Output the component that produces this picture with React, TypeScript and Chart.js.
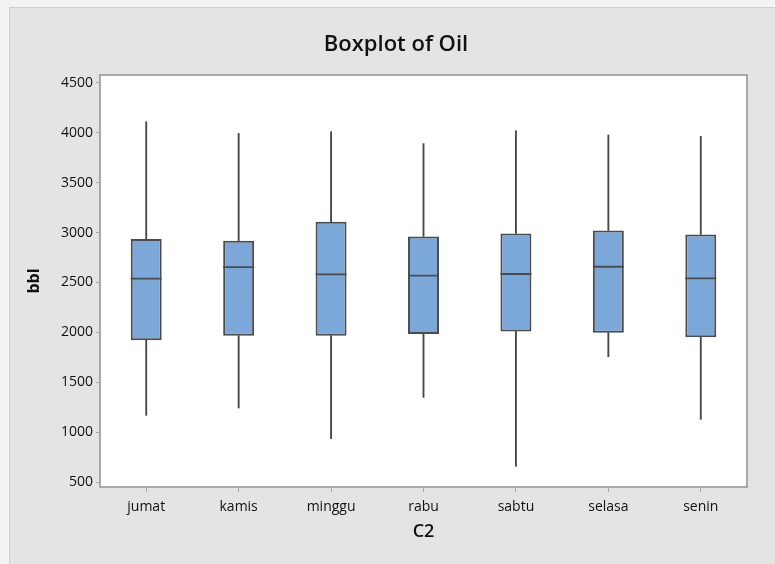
import React, { useEffect, useRef } from "react";
import { Chart, registerables } from "chart.js";

Chart.register(...registerables);

const categories = ["jumat", "kamis", "minggu", "rabu", "sabtu", "selasa", "senin"];
const whiskerMin = [1168, 1242, 934, 1348, 657, 1756, 1128];
const quartile1 = [1920, 1967, 1967, 1984, 2010, 1997, 1950];
const medians = [2538, 2655, 2581, 2568, 2585, 2658, 2541];
const quartile3 = [2936, 2919, 3110, 2962, 2992, 3022, 2982];
const whiskerMax = [4112, 3995, 4012, 3892, 4022, 3979, 3965];
const yTicks = [500, 1000, 1500, 2000, 2500, 3000, 3500, 4000, 4500];
const yMin = 450;
const yMax = 4580;

const FONT = "'Open Sans', 'Noto Sans', sans-serif";
const BOX_FILL = "#7ba7d9";
const BOX_LINE = "#4c4c4c";
const WHISKER = "#474747";
const FRAME = "#a9a9a9";
const BW = 2;

const plotFrame = {
  id: "plotFrame",
  beforeDraw(chart: any) {
    const { ctx, chartArea } = chart;
    ctx.save();
    ctx.fillStyle = "#ffffff";
    ctx.fillRect(chartArea.left, chartArea.top, chartArea.right - chartArea.left, chartArea.bottom - chartArea.top);
    ctx.restore();
  },
  beforeDatasetsDraw(chart: any) {
    const { ctx, chartArea } = chart;
    ctx.save();
    ctx.strokeStyle = FRAME;
    ctx.lineWidth = 2;
    ctx.strokeRect(chartArea.left, chartArea.top, chartArea.right - chartArea.left, chartArea.bottom - chartArea.top);
    ctx.restore();
  },
};

export default function App() {
  const ref = useRef<HTMLCanvasElement | null>(null);

  useEffect(() => {
    if (!ref.current) return;
    const whiskerCommon = {
      type: "bar" as const,
      grouped: false,
      order: 2,
      barThickness: 1.2,
      backgroundColor: WHISKER,
      borderWidth: 0,
    };
    const boxCommon = {
      type: "bar" as const,
      grouped: false,
      order: 1,
      barPercentage: 0.335,
      categoryPercentage: 1,
      backgroundColor: BOX_FILL,
      borderColor: BOX_LINE,
      borderSkipped: false,
    };
    const chart = new Chart(ref.current, {
      type: "bar",
      data: {
        labels: categories,
        datasets: [
          {
            type: "line",
            label: "Median",
            order: 0,
            data: medians,
            showLine: false,
            pointStyle: "line",
            pointRadius: 15.5,
            pointHoverRadius: 15.5,
            pointBorderWidth: 1.8,
            pointBorderColor: BOX_LINE,
            pointBackgroundColor: BOX_LINE,
            borderColor: BOX_LINE,
          },
          {
            ...boxCommon,
            label: "Median-Q3",
            borderWidth: { top: BW, right: BW, bottom: 0, left: BW },
            data: medians.map((v, i) => [v, quartile3[i]]),
          },
          {
            ...boxCommon,
            label: "Q1-Median",
            borderWidth: { top: 0, right: BW, bottom: BW, left: BW },
            data: quartile1.map((v, i) => [v, medians[i]]),
          },
          { ...whiskerCommon, label: "Upper whisker", data: quartile3.map((v, i) => [v, whiskerMax[i]]) },
          { ...whiskerCommon, label: "Lower whisker", data: whiskerMin.map((v, i) => [v, quartile1[i]]) },
        ] as any,
      },
      options: {
        animation: false,
        responsive: false,
        devicePixelRatio: 1,
        layout: { padding: { top: 0, right: 0, bottom: 0, left: 7 } },
        plugins: {
          legend: { display: false },
          tooltip: { enabled: false },
          title: {
            display: true,
            text: "Boxplot of Oil",
            color: "#111111",
            font: { family: FONT, size: 22, weight: "600" },
            padding: { top: 24, bottom: 16.6 },
          },
        },
        scales: {
          x: {
            type: "category",
            offset: true,
            afterFit(scale: any) {
              scale.height = 77;
            },
            grid: { drawOnChartArea: false, drawTicks: true, tickLength: 5, color: "#a8a8a8", offset: false },
            border: { display: false },
            ticks: { color: "#111111", padding: 7, font: { family: FONT, size: 14 } },
            title: {
              display: true,
              text: "C2",
              color: "#111111",
              font: { family: FONT, size: 18, weight: "600" },
              padding: { top: 0, bottom: 21 },
            },
          },
          y: {
            type: "linear",
            min: yMin,
            max: yMax,
            afterFit(scale: any) {
              scale.width = 83;
            },
            afterBuildTicks(scale: any) {
              scale.ticks = yTicks.map((v) => ({ value: v }));
            },
            grid: { drawOnChartArea: false, drawTicks: true, tickLength: 4, color: "#a8a8a8" },
            border: { display: false },
            ticks: {
              color: "#111111",
              padding: 3,
              font: { family: FONT, size: 14 },
              callback: (v: any) => String(v),
            },
            title: {
              display: true,
              text: "bbl",
              color: "#111111",
              font: { family: FONT, size: 16, weight: "bold" },
              padding: { top: 8, bottom: 0 },
            },
          },
          yRightSpace: {
            type: "linear",
            position: "right",
            display: true,
            afterFit(scale: any) {
              scale.width = 28;
            },
            grid: { display: false, drawTicks: false },
            border: { display: false },
            ticks: { display: false },
          },
        },
      },
      plugins: [plotFrame],
    });
    return () => chart.destroy();
  }, []);

  return (
    <div style={{ position: "fixed", inset: 0, background: "#f3f3f3" }}>
      <div
        style={{
          position: "absolute",
          left: 9,
          top: 7,
          right: 0,
          bottom: 0,
          background: "#e4e4e4",
          borderTop: "1px solid #d0d0d0",
          borderLeft: "1px solid #d0d0d0",
          overflow: "hidden",
        }}
      >
        <canvas ref={ref} width={765} height={556} style={{ display: "block" }} />
      </div>
    </div>
  );
}
